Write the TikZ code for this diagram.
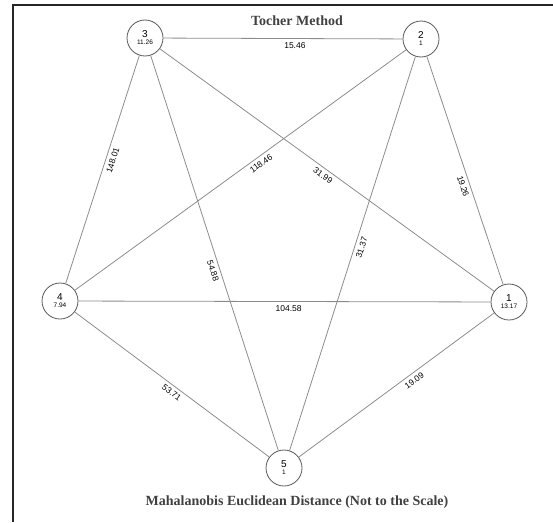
\documentclass[tikz,border=0pt]{standalone}
\usepackage{fontspec}
\setmainfont{Liberation Serif}
\newfontfamily\lblfont{Liberation Sans}
\usetikzlibrary{positioning}
\tikzset{
  vert/.style  ={circle, draw=black!65, thick, fill=white, minimum size=36pt,
                 inner sep=0pt, align=center, font=\lblfont\fontsize{10}{10}\selectfont},
  edge/.style  ={draw=black!45, line width=0.8pt},
  lbl/.style   ={font=\lblfont\fontsize{8.5}{9}\selectfont, inner sep=1pt, sloped, below=2.5pt},
  ttl/.style   ={font=\bfseries\fontsize{14}{14}\selectfont, text=black!75},
  frame/.style ={draw=black!85, line width=1.1pt}
}
\newcommand{\sub}[1]{\\[-3pt]{\fontsize{6.5}{6.5}\selectfont #1}}

\begin{document}
\begin{tikzpicture}[x=1pt,y=-1pt]
  \useasboundingbox (0,0) rectangle (553,522);
  \draw[frame] (13,522) -- (13,5) -- (553,5);

  \node[ttl] (title) at (297,21) {Tocher Method};
  \node[ttl] (foot)  at (297,502) {Mahalanobis Euclidean Distance (Not to the Scale)};

  % clusters on a pentagon
  \node[vert] (n3) at (145,38)  {3\sub{11.26}};
  \node[vert] (n2) at (421,39)  {2\sub{1}};
  \node[vert] (n4) at (60,301)  {4\sub{7.94}};
  \node[vert] (n1) at (509,302) {1\sub{13.17}};
  \node[vert] (n5) at (284,468) {5\sub{1}};

  \draw[edge] (n3) -- node[lbl,pos=0.55]{15.46}  (n2);
  \draw[edge] (n4) -- node[lbl,pos=0.51]{104.58} (n1);
  \draw[edge] (n4) -- node[lbl,pos=0.55]{148.01} (n3);
  \draw[edge] (n4) -- node[lbl,pos=0.55]{118.46} (n2);
  \draw[edge] (n3) -- node[lbl,pos=0.5]{31.99}   (n1);
  \draw[edge] (n3) -- node[lbl,pos=0.54]{54.88}  (n5);
  \draw[edge] (n5) -- node[lbl,pos=0.52]{31.37}  (n2);
  \draw[edge] (n2) -- node[lbl,pos=0.56]{19.26}  (n1);
  \draw[edge] (n4) -- node[lbl,pos=0.52]{53.71}  (n5);
  \draw[edge] (n5) -- node[lbl,pos=0.57]{19.09}  (n1);
\end{tikzpicture}
\end{document}
